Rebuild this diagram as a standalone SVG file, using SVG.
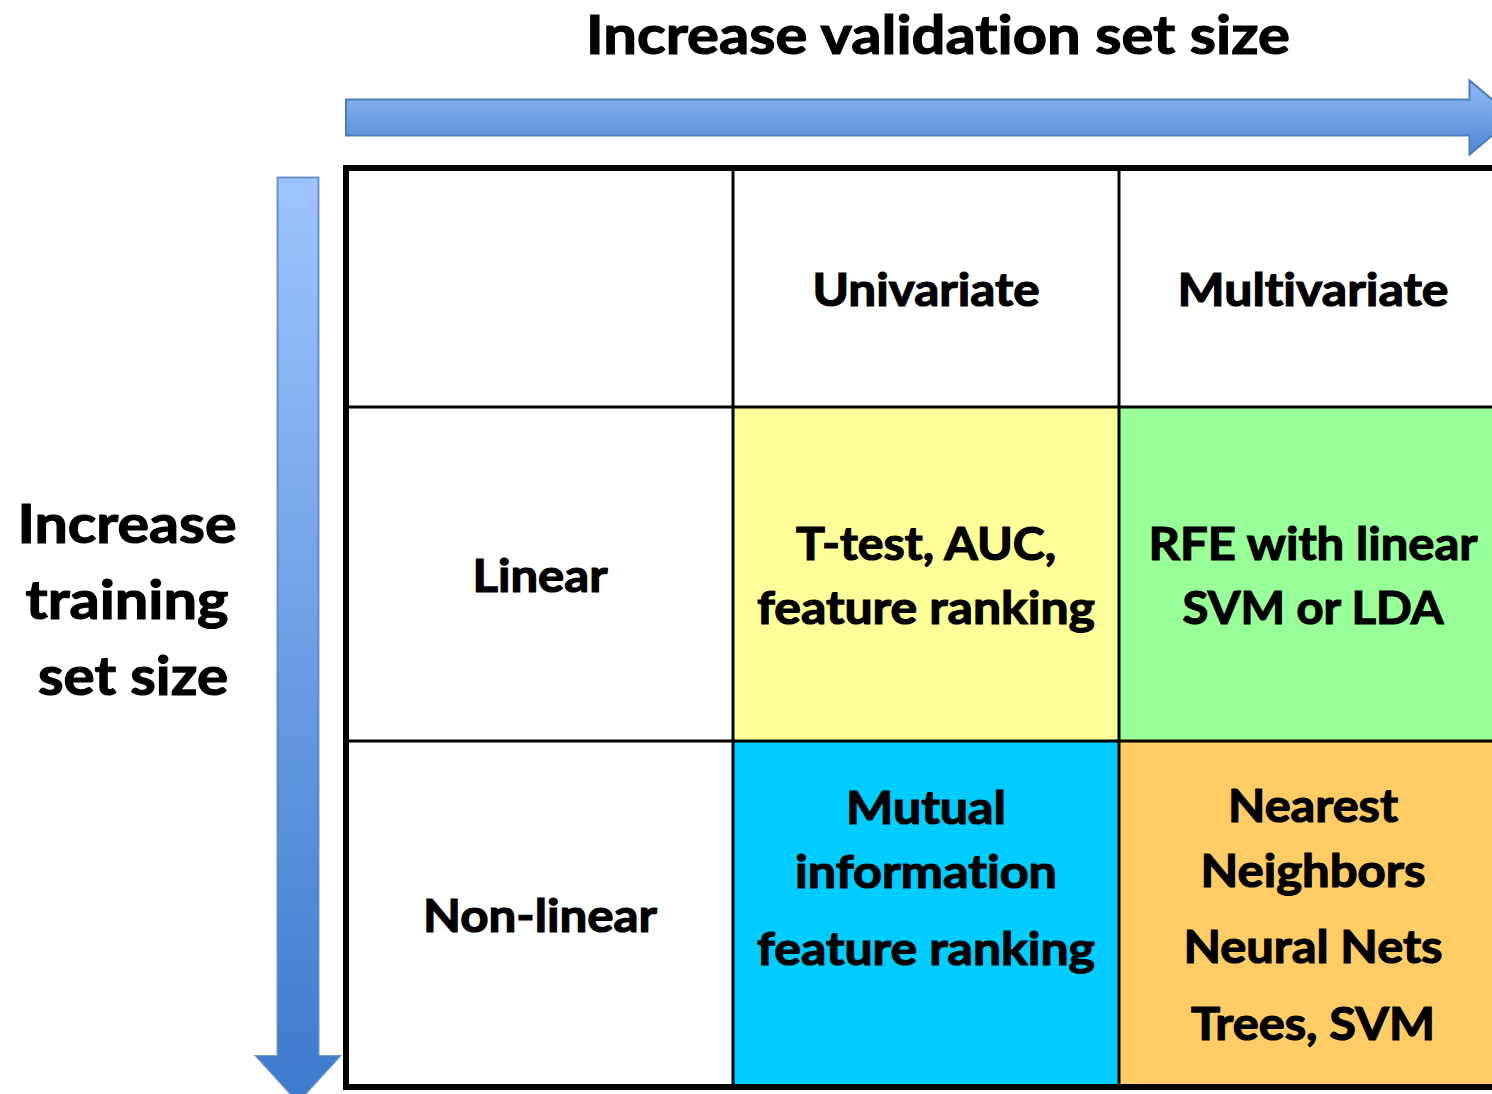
<svg xmlns="http://www.w3.org/2000/svg" width="1492" height="1094" viewBox="0 0 1492 1094">
<style>
  text { font-family: Lato, "Open Sans", "Liberation Sans", sans-serif; font-weight: bold; fill: #000; stroke: #000; stroke-width: 1.2; text-anchor: middle; font-variant-ligatures: none; }
  .big { font-size: 54px; }
  .cell { font-size: 45px; }
  .thin { stroke: #000; stroke-width: 3; }
</style>
<defs>
  <linearGradient id="gh" x1="0" y1="0" x2="0" y2="1">
    <stop offset="0" stop-color="#93B9F6"/>
    <stop offset="1" stop-color="#4D87D2"/>
  </linearGradient>
  <linearGradient id="gv" gradientUnits="userSpaceOnUse" x1="0" y1="177" x2="0" y2="1100">
    <stop offset="0" stop-color="#9EC4FF"/>
    <stop offset="1" stop-color="#3C7ACC"/>
  </linearGradient>
</defs>
<rect width="1492" height="1094" fill="#fff"/>

<g id="title-top">
  <text class="big" x="938" y="54" textLength="704" lengthAdjust="spacingAndGlyphs">Increase validation set size</text>
</g>
<g id="title-left">
  <text class="big" x="127" y="543" textLength="219" lengthAdjust="spacingAndGlyphs">Increase</text>
  <text class="big" x="127" y="619" textLength="203" lengthAdjust="spacingAndGlyphs">training</text>
  <text class="big" x="133" y="695" textLength="190" lengthAdjust="spacingAndGlyphs">set size</text>
</g>

<g id="connectors">
  <path id="arrow-h" d="M346 99.5 H1469.5 V80.5 L1514 117.5 L1469.5 154.5 V135.5 H346 Z" fill="url(#gh)" stroke="#4A7EBB" stroke-width="2"/>
  <path id="arrow-v" d="M277.5 177.5 H318.5 V1056 H340 L298 1102 L256 1056 H277.5 Z" fill="url(#gv)" stroke="#4F81BD" stroke-width="2" stroke-opacity="0.8"/>
</g>

<g id="cells">
  <rect x="734" y="408" width="385" height="333" fill="#FFFF99"/>
  <rect x="1119" y="408" width="380" height="333" fill="#99FF99"/>
  <rect x="734" y="741" width="385" height="343" fill="#00CCFF"/>
  <rect x="1119" y="741" width="380" height="343" fill="#FFCC66"/>
</g>

<g id="grid">
  <line class="thin" x1="733" y1="168" x2="733" y2="1087"/>
  <line class="thin" x1="1119" y1="168" x2="1119" y2="1087"/>
  <line class="thin" x1="346" y1="407" x2="1500" y2="407"/>
  <line class="thin" x1="346" y1="741" x2="1500" y2="741"/>
  <path d="M1500 168 H346 V1087 H1500" fill="none" stroke="#000" stroke-width="6"/>
</g>

<g id="header-univariate"><text class="cell" x="926" y="306" textLength="227" lengthAdjust="spacingAndGlyphs">Univariate</text></g>
<g id="header-multivariate"><text class="cell" x="1313" y="306" textLength="271" lengthAdjust="spacingAndGlyphs">Multivariate</text></g>
<g id="row-linear"><text class="cell" x="540" y="592" textLength="135" lengthAdjust="spacingAndGlyphs">Linear</text></g>
<g id="row-nonlinear"><text class="cell" x="540" y="932" textLength="234" lengthAdjust="spacingAndGlyphs">Non-linear</text></g>

<g id="cell-uni-linear">
  <text class="cell" x="926" y="560" textLength="260" lengthAdjust="spacingAndGlyphs">T-test, AUC,</text>
  <text class="cell" x="926" y="624" textLength="338" lengthAdjust="spacingAndGlyphs">feature ranking</text>
</g>
<g id="cell-multi-linear">
  <text class="cell" x="1313" y="560" textLength="329" lengthAdjust="spacingAndGlyphs">RFE with linear</text>
  <text class="cell" x="1313" y="624" textLength="261" lengthAdjust="spacingAndGlyphs">SVM or LDA</text>
</g>
<g id="cell-uni-nonlinear">
  <text class="cell" x="926" y="824" textLength="160" lengthAdjust="spacingAndGlyphs">Mutual</text>
  <text class="cell" x="926" y="888" textLength="262" lengthAdjust="spacingAndGlyphs">information</text>
  <text class="cell" x="926" y="965" textLength="338" lengthAdjust="spacingAndGlyphs">feature ranking</text>
</g>
<g id="cell-multi-nonlinear">
  <text class="cell" x="1313" y="822" textLength="170" lengthAdjust="spacingAndGlyphs">Nearest</text>
  <text class="cell" x="1313" y="887" textLength="225" lengthAdjust="spacingAndGlyphs">Neighbors</text>
  <text class="cell" x="1313" y="963" textLength="259" lengthAdjust="spacingAndGlyphs">Neural Nets</text>
  <text class="cell" x="1313" y="1040" textLength="244" lengthAdjust="spacingAndGlyphs">Trees, SVM</text>
</g>
</svg>
